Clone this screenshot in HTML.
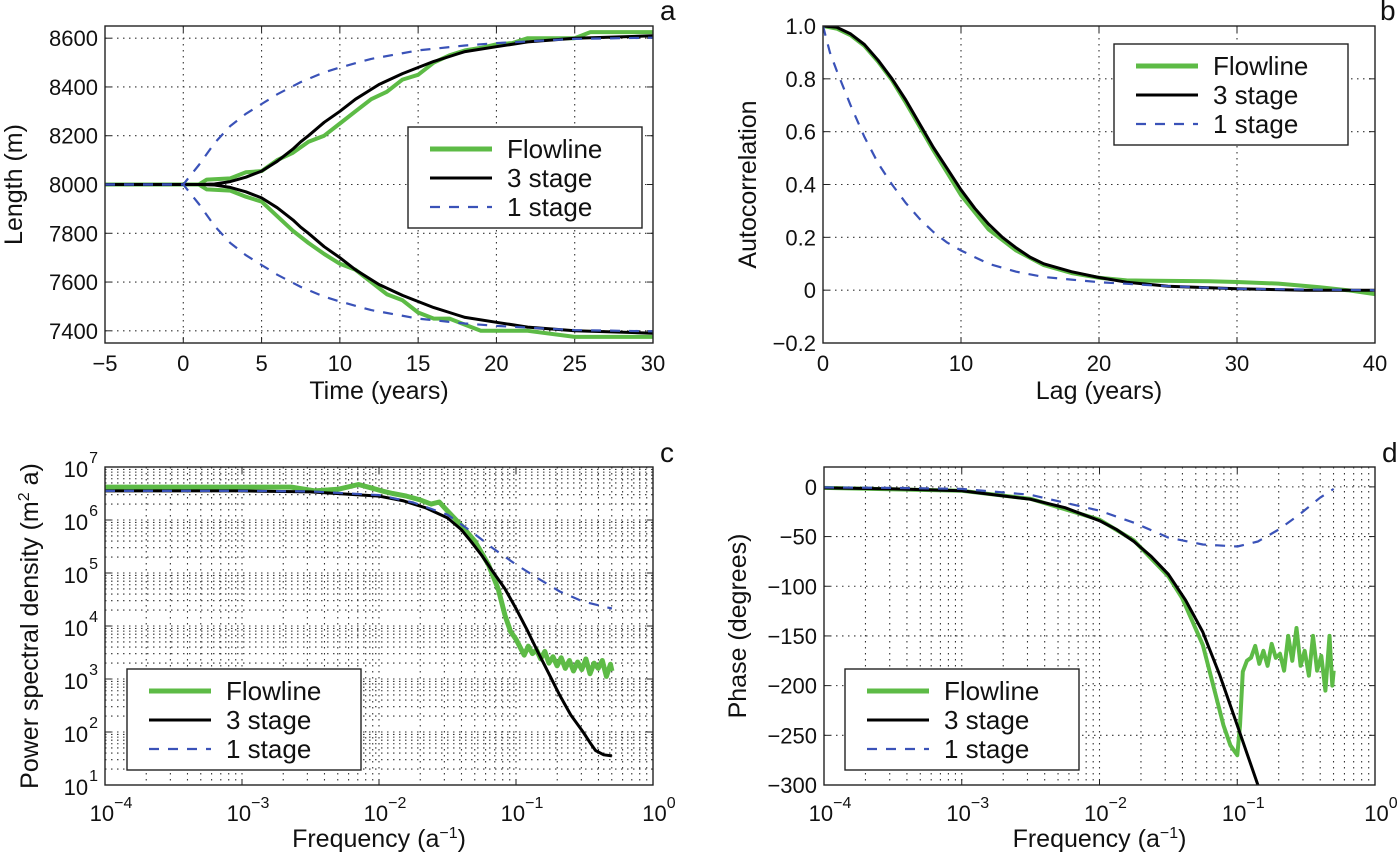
<!DOCTYPE html>
<html><head><meta charset="utf-8"><style>
html,body{margin:0;padding:0;background:#fff;}
svg{display:block;font-family:"Liberation Sans",Arial,sans-serif;}
</style></head><body>
<svg id="fig" width="1400" height="852" viewBox="0 0 1400 852"></svg>
<script>
// ---- Panel a data ----
const aTime3 = [-5,0,1,2,3,4,5,6,7,7.5,8,9,10,11,12,12.5,13,14,15,16,17,17.5,18,20,22,25,30];
const aUp3 = [8000,8000,8000,8002,8012,8030,8055,8095,8145,8175,8200,8255,8300,8350,8390,8410,8425,8455,8480,8505,8525,8535,8545,8565,8585,8600,8610];
const aTime1 = [-5,0,0.5,1,2,3,4,5,6,7.5,9,10,12,15,18,20,25,30];
const aUp1 = [8000,8000,8040,8080,8170,8240,8290,8330,8370,8420,8460,8480,8515,8550,8570,8580,8597,8602];
const aTimeF = [-5,1,1.5,3,4,5,6,7,8,9,10,11,12,13,14,15,16,17,18,19,20,21,22,25,26,30];
const aUpF = [8000,8000,8020,8025,8050,8055,8100,8130,8175,8200,8250,8300,8350,8380,8430,8450,8500,8530,8550,8560,8575,8580,8600,8600,8625,8625];
const aLowF = [8000,8000,7980,7975,7950,7930,7870,7810,7760,7715,7675,7650,7600,7550,7525,7475,7450,7450,7425,7400,7400,7400,7400,7375,7375,7375];
const aXTicks = [-5,0,5,10,15,20,25,30];
const aYTicks = [7400,7600,7800,8000,8200,8400,8600];
// ---- Panel b data ----
const bLag3 = [0,1,2,3,4,5,6,7,8,9,10,11,12,13,14,15,16,18,20,22,25,30,35,40];
const bAc3 = [1.0,0.995,0.97,0.93,0.87,0.8,0.72,0.63,0.54,0.46,0.38,0.31,0.25,0.2,0.16,0.125,0.1,0.07,0.048,0.03,0.015,0.005,0.0,0.0];
const bLagF = [0,1,2,3,4,5,6,7,8,9,10,12,14,16,18,20,22,25,28,30,33,36,38,40];
const bAcF = [1.0,0.99,0.965,0.925,0.865,0.795,0.71,0.62,0.53,0.445,0.36,0.23,0.15,0.095,0.065,0.047,0.037,0.035,0.034,0.031,0.025,0.011,0.0,-0.015];
const bLag1 = [0,0.5,1,2,3,4,5,6,7,8,9,10,12,14,16,18,20,25,30,40];
const bAc1 = [1.0,0.9,0.83,0.7,0.58,0.48,0.4,0.33,0.27,0.22,0.18,0.15,0.1,0.07,0.05,0.04,0.03,0.015,0.005,0.0];
const bXTicks = [0,10,20,30,40];
const bYTicks = [-0.2,0,0.2,0.4,0.6,0.8,1.0];
const bYLabels = ["\u22120.2","0","0.2","0.4","0.6","0.8","1.0"];
// ---- Panel c data (log10 frequency, log10 PSD) ----
const cF3 = [-4,-3,-2.5,-2,-1.82,-1.66,-1.5,-1.4,-1.33,-1.25,-1.17,-1.08,-1.0,-0.92,-0.84,-0.76,-0.68,-0.6,-0.51,-0.46,-0.42,-0.36,-0.3];
const cP3 = [6.55,6.55,6.53,6.45,6.36,6.23,6.04,5.82,5.6,5.33,5.03,4.7,4.33,3.93,3.51,3.1,2.69,2.32,2.0,1.8,1.65,1.57,1.55];
const cF1 = [-4,-3,-2.5,-2,-1.75,-1.5,-1.33,-1.17,-1.0,-0.84,-0.68,-0.51,-0.3];
const cP1 = [6.55,6.55,6.54,6.47,6.33,6.1,5.79,5.47,5.16,4.9,4.65,4.46,4.33];
const cFF = [-4,-2.64,-2.47,-2.3,-2.15,-2.05,-1.98,-1.9,-1.8,-1.7,-1.62,-1.56,-1.5,-1.4,-1.3,-1.2,-1.13,-1.08,-1.04,-1.0,-0.97,-0.94,-0.91,-0.88,-0.85,-0.82,-0.79,-0.76,-0.73,-0.7,-0.67,-0.64,-0.61,-0.58,-0.55,-0.52,-0.49,-0.46,-0.43,-0.4,-0.37,-0.34,-0.31,-0.3];
const cPF = [6.62,6.62,6.55,6.58,6.67,6.6,6.55,6.5,6.45,6.38,6.3,6.34,6.17,5.9,5.6,5.15,4.7,4.2,3.9,3.75,3.6,3.45,3.62,3.48,3.55,3.38,3.52,3.3,3.42,3.25,3.4,3.2,3.35,3.15,3.32,3.18,3.38,3.1,3.3,3.2,3.35,3.05,3.28,3.15];
const cXTicks = [-4,-3,-2,-1,0];
const cYTicks = [1,2,3,4,5,6,7];
// ---- Panel d data (log10 frequency, phase degrees) ----
const dF3 = [-4,-3.5,-3,-2.5,-2.25,-2,-1.875,-1.75,-1.625,-1.5,-1.375,-1.25,-1.125,-1.0,-0.925,-0.85];
const dP3 = [-1,-2,-4,-12.5,-21,-34,-43,-55,-70,-88,-114,-146,-190,-240,-270,-300];
const dF1 = [-4,-3.5,-3,-2.5,-2,-1.75,-1.5,-1.25,-1.0,-0.85,-0.7,-0.55,-0.4,-0.3];
const dP1 = [-0.5,-1,-2,-8,-24,-36,-51,-58,-60,-55,-43,-28,-11,-2];
const dFF = [-4,-3,-2.5,-2,-1.75,-1.5,-1.4,-1.25,-1.15,-1.1,-1.05,-1.0,-0.98,-0.96,-0.93,-0.9,-0.87,-0.84,-0.81,-0.78,-0.75,-0.72,-0.69,-0.66,-0.63,-0.6,-0.57,-0.54,-0.51,-0.48,-0.45,-0.42,-0.39,-0.36,-0.33,-0.31,-0.3];
const dPF = [-1,-4,-12,-33,-54,-90,-112,-159,-213,-240,-260,-270,-240,-186,-175,-172,-160,-178,-165,-180,-158,-172,-168,-185,-150,-175,-142,-180,-165,-190,-150,-185,-170,-205,-150,-200,-185];
const dXTicks = [-4,-3,-2,-1,0];
const dYTicks = [-300,-250,-200,-150,-100,-50,0];
const dYLabels = ["\u2212300","\u2212250","\u2212200","\u2212150","\u2212100","\u221250","0"];

const NS = "http://www.w3.org/2000/svg";
const svg = document.getElementById('fig');
const GREEN = "#5dbb46", BLUE = "#3a52b8";
function mk(tag, attrs, parent){
  const e = document.createElementNS(NS, tag);
  for (const k in attrs) e.setAttribute(k, attrs[k]);
  (parent||svg).appendChild(e);
  return e;
}
function linScale(d0,d1,r0,r1){ return v => r0 + (v-d0)/(d1-d0)*(r1-r0); }
function pathOf(xs, ys, sx, sy){
  let d = "";
  for (let i=0;i<xs.length;i++) d += (i?"L":"M") + sx(xs[i]).toFixed(1) + "," + sy(ys[i]).toFixed(1);
  return d;
}

function panel(p){
  const g = mk('g', {});
  
  
  const sx = linScale(p.xd[0], p.xd[1], p.L, p.R);
  const sy = linScale(p.yd[0], p.yd[1], p.B, p.T);
  const clipId = p.name + "-clip";
  const cp = mk('clipPath', {id: clipId}, g);
  mk('rect', {x:p.L, y:p.T, width:p.R-p.L, height:p.B-p.T}, cp);
  const grid = mk('g', {stroke:"#333", "stroke-width":1.1, "stroke-dasharray":"1.5,4.5"}, g);
  
  
  const gx = [], gy = [];
  p.xt.forEach(v => gx.push(v));
  p.yt.forEach(v => gy.push(v));
  if (p.logx) for (let e=p.xd[0]; e<p.xd[1]; e++) for (let m=2;m<10;m++) gx.push(e+Math.log10(m));
  if (p.logy) for (let e=p.yd[0]; e<p.yd[1]; e++) for (let m=2;m<10;m++) gy.push(e+Math.log10(m));
  gx.forEach(v => { if (v>p.xd[0] && v<p.xd[1]) mk('line', {x1:sx(v), x2:sx(v), y1:p.T, y2:p.B}, grid); });
  gy.forEach(v => { if (v>p.yd[0] && v<p.yd[1]) mk('line', {x1:p.L, x2:p.R, y1:sy(v), y2:sy(v)}, grid); });
  const tk = mk('g', {stroke:"#222", "stroke-width":1}, g);
  p.xt.forEach(v => { mk('line',{x1:sx(v),x2:sx(v),y1:p.B,y2:p.B-6},tk); mk('line',{x1:sx(v),x2:sx(v),y1:p.T,y2:p.T+6},tk); });
  p.yt.forEach(v => { mk('line',{x1:p.L,x2:p.L+6,y1:sy(v),y2:sy(v)},tk); mk('line',{x1:p.R,x2:p.R-6,y1:sy(v),y2:sy(v)},tk); });
  const sg = mk('g', {"clip-path":"url(#"+clipId+")", fill:"none", "stroke-linejoin":"round"}, g);
  p.series.forEach(s => {
    const path = mk('path', {d: pathOf(s.x, s.y, sx, sy), stroke: s.color, "stroke-width": s.w}, sg);
    if (s.dash) path.setAttribute('stroke-dasharray', s.dash);
    
    
  });
  const box = mk('rect', {x:p.L, y:p.T, width:p.R-p.L, height:p.B-p.T, fill:"none", stroke:"#222", "stroke-width":1.4}, g);
  
  
  p.xt.forEach((v,i) => {
    const t = mk('text', {x:sx(v), y:p.B+28, "font-size":22, "text-anchor":"middle", fill:"#111"}, g);
    
    
    if (p.logx){ t.setAttribute('y', p.B+36); t.textContent = "10"; const s = mk('tspan', {dy:-13, "font-size":16}, t); s.textContent = v===0 ? "0" : "\u2212"+Math.abs(v); t.setAttribute('x', sx(v)+6); }
    else t.textContent = p.xl ? p.xl[i] : (v<0 ? "\u2212"+Math.abs(v) : String(v));
  });
  p.yt.forEach((v,i) => {
    const t = mk('text', {x:p.L-7, y:sy(v)+8, "font-size":22, "text-anchor":"end", fill:"#111"}, g);
    
    
    if (p.logy){ t.setAttribute('y', sy(v)+10); t.textContent = "10"; const s = mk('tspan', {dy:-14, dx:1, "font-size":16}, t); s.textContent = String(v); }
    else t.textContent = p.yl ? p.yl[i] : String(v);
  });
  const xt = mk('text', {x:(p.L+p.R)/2, y:p.B+(p.logx?62:56), "font-size":25, "text-anchor":"middle", fill:"#111"}, g);
  
  
  xt.innerHTML = p.xtitle;
  const yt = mk('text', {x:0, y:0, "font-size":25, "text-anchor":"middle", fill:"#111", transform:"translate("+p.ytx+","+((p.T+p.B)/2)+") rotate(-90)"}, g);
  
  
  yt.innerHTML = p.ytitle;
  const pl = mk('text', {x:p.lab[0], y:p.lab[1], "font-size":28, fill:"#111"}, g);
  
  
  pl.textContent = p.letter;
  const lg = mk('g', {}, g);
  
  
  const [lx, ly] = p.leg;
  mk('rect', {x:lx, y:ly, width:234, height:101, fill:"#fff", stroke:"#222", "stroke-width":1.4}, lg);
  const entries = [["Flowline",GREEN,5,null],["3 stage","#000",3,null],["1 stage",BLUE,2.2,"10,9"]];
  entries.forEach((e,i) => {
    const yy = ly + 22 + i*29;
    const ent = mk('g', {}, lg);
    
    
    const ln = mk('line', {x1:lx+22, x2:lx+84, y1:yy, y2:yy, stroke:e[1], "stroke-width":e[2]}, ent);
    if (e[3]) ln.setAttribute('stroke-dasharray', e[3]);
    const t = mk('text', {x:lx+99, y:yy+9, "font-size":26, fill:"#111"}, ent);
    t.textContent = e[0];
  });
}

panel({name:"panel-a-length", L:105, R:653, T:26, B:343, xd:[-5,30], yd:[7350,8650], xt:aXTicks, yt:aYTicks,
  xtitle:"Time (years)", ytitle:"Length (m)", ytx:22, lab:[660,20], letter:"a", leg:[408,127],
  series:[
    {name:"flowline-upper", x:aTimeF, y:aUpF, color:GREEN, w:4},
    {name:"flowline-lower", x:aTimeF, y:aLowF, color:GREEN, w:4},
    {name:"three-stage-upper", x:aTime3, y:aUp3, color:"#000", w:3},
    {name:"three-stage-lower", x:aTime3, y:aUp3.map(v=>16000-v), color:"#000", w:3},
    {name:"one-stage-upper", x:aTime1, y:aUp1, color:BLUE, w:2.2, dash:"10,9"},
    {name:"one-stage-lower", x:aTime1, y:aUp1.map(v=>16000-v), color:BLUE, w:2.2, dash:"10,9"}
  ]});
panel({name:"panel-b-autocorrelation", L:823, R:1375, T:26, B:343, xd:[0,40], yd:[-0.2,1.0], xt:bXTicks, yt:bYTicks, yl:bYLabels,
  xtitle:"Lag (years)", ytitle:"Autocorrelation", ytx:756, lab:[1380,20], letter:"b", leg:[1114,44],
  series:[
    {name:"flowline-acf", x:bLagF, y:bAcF, color:GREEN, w:4},
    {name:"three-stage-acf", x:bLag3, y:bAc3, color:"#000", w:3},
    {name:"one-stage-acf", x:bLag1, y:bAc1, color:BLUE, w:2.2, dash:"10,9"}
  ]});
panel({name:"panel-c-psd", L:105, R:653, T:467, B:785, xd:[-4,0], yd:[1,7], xt:cXTicks, yt:cYTicks, logx:true, logy:true,
  xtitle:"Frequency (a<tspan dy='-9' font-size='16'>\u22121</tspan><tspan dy='9'>)</tspan>",
  ytitle:"Power spectral density (m<tspan dy='-9' font-size='16'>2</tspan><tspan dy='9'> a)</tspan>", ytx:38, lab:[660,462], letter:"c", leg:[127,669],
  series:[
    {name:"flowline-psd", x:cFF, y:cPF, color:GREEN, w:5},
    {name:"three-stage-psd", x:cF3, y:cP3, color:"#000", w:3},
    {name:"one-stage-psd", x:cF1, y:cP1, color:BLUE, w:2.2, dash:"10,9"}
  ]});
panel({name:"panel-d-phase", L:824, R:1375, T:467, B:785, xd:[-4,0], yd:[-300,20], xt:dXTicks, yt:dYTicks, yl:dYLabels, logx:true,
  xtitle:"Frequency (a<tspan dy='-9' font-size='16'>\u22121</tspan><tspan dy='9'>)</tspan>",
  ytitle:"Phase (degrees)", ytx:746, lab:[1382,462], letter:"d", leg:[845,669],
  series:[
    {name:"flowline-phase", x:dFF, y:dPF, color:GREEN, w:4},
    {name:"three-stage-phase", x:dF3, y:dP3, color:"#000", w:3},
    {name:"one-stage-phase", x:dF1, y:dP1, color:BLUE, w:2.2, dash:"10,9"}
  ]});
</script>
</body></html>
